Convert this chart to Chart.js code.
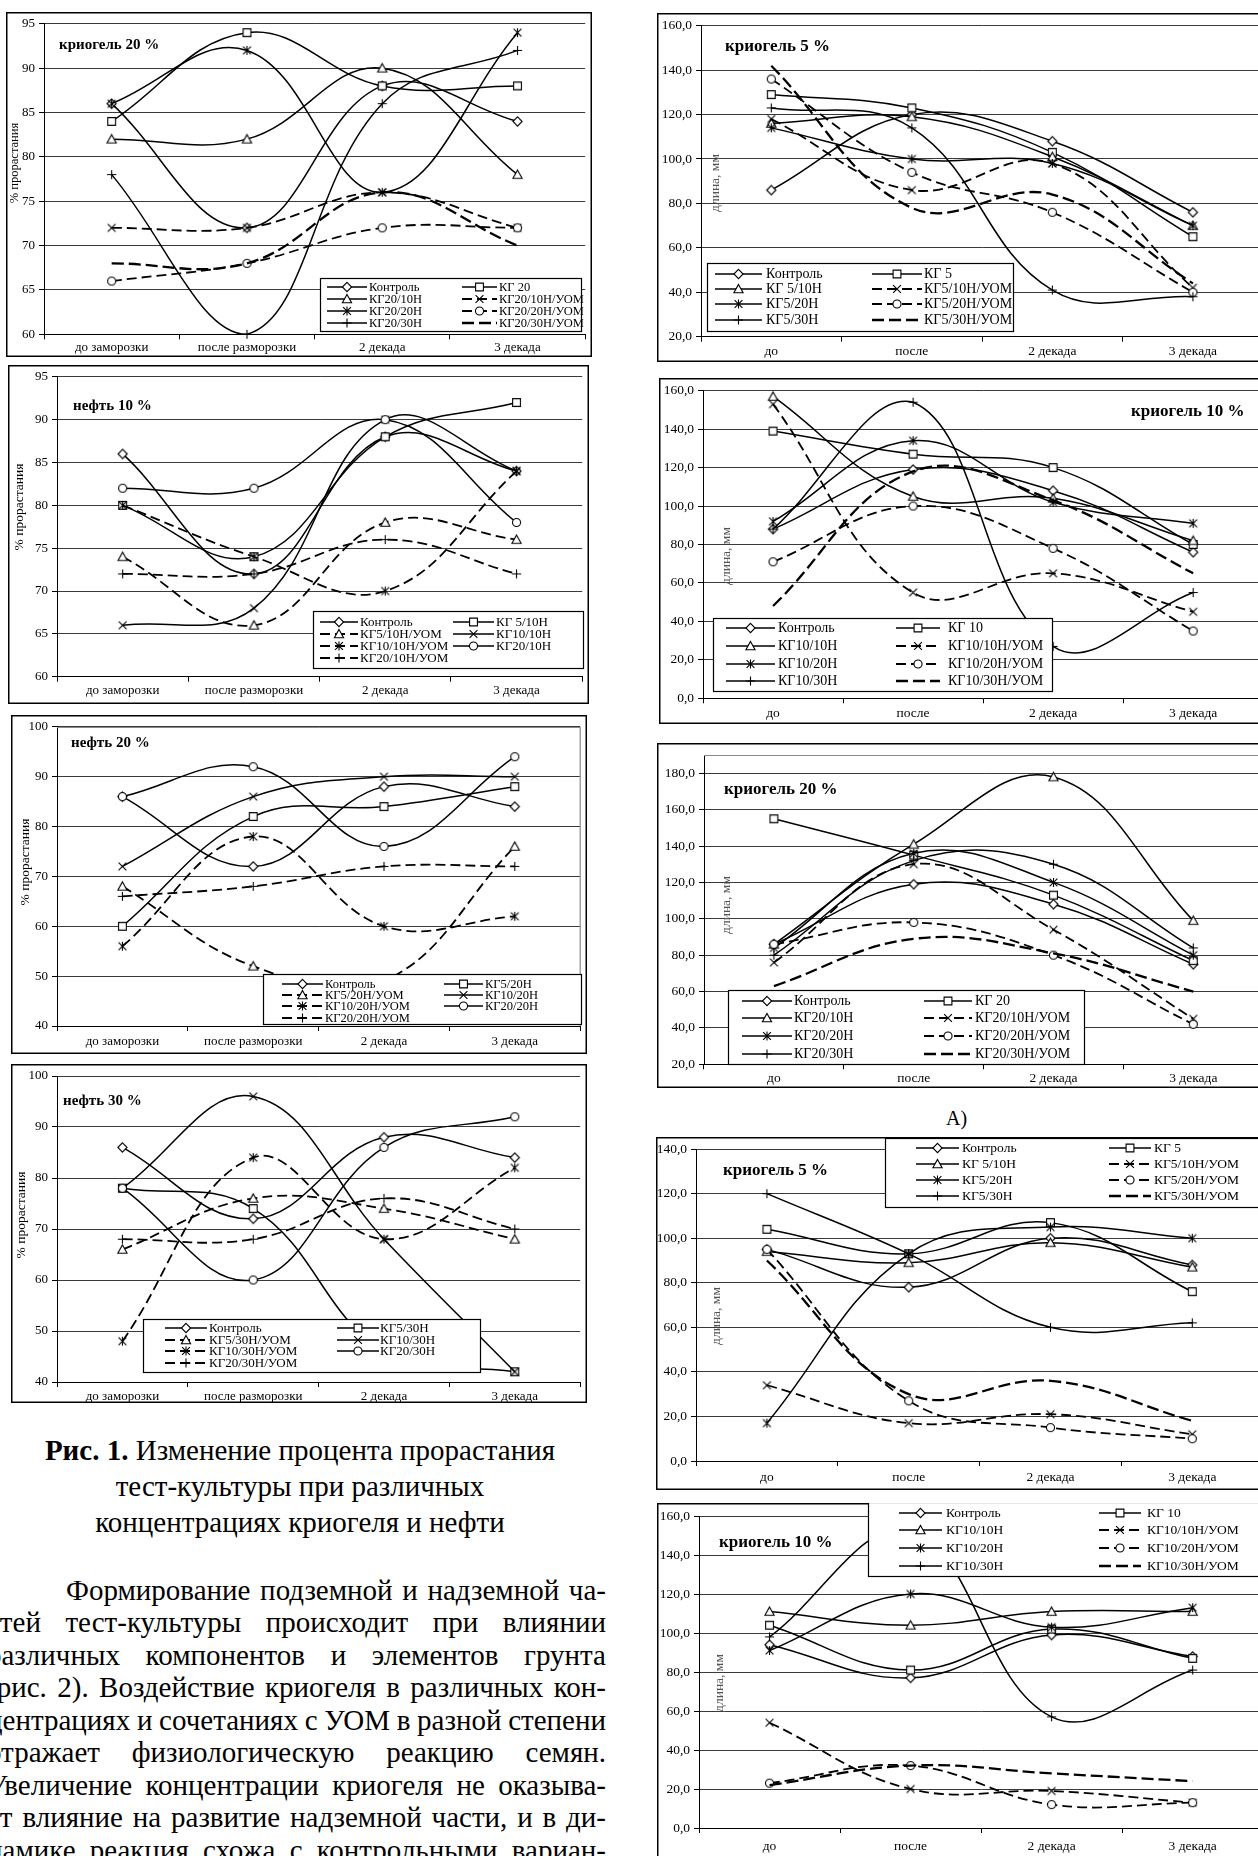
<!DOCTYPE html>
<html>
<head>
<meta charset="utf-8">
<script src="https://cdn.jsdelivr.net/npm/chart.js@4/dist/chart.umd.min.js"></script>
<style>
  html, body { margin: 0; padding: 0; background: #fff; }
  body { width: 1258px; height: 1856px; overflow: hidden; position: relative;
         font-family: "Liberation Serif", "Times New Roman", serif; color: #000; }
  canvas { position: absolute; }
  .cap { position: absolute; left: 0; width: 600px; text-align: center; white-space: nowrap;
         font-size: 29px; line-height: 36px; }
  .pl { position: absolute; white-space: nowrap; font-size: 29px; line-height: 32px; }
  .lbl { position: absolute; white-space: nowrap; font-size: 20px; line-height: 24px; }
</style>
</head>
<body>

<div class="cap" style="top:1432px"><b>Рис. 1.</b> Изменение процента прорастания</div>
<div class="cap" style="top:1468px">тест-культуры при различных</div>
<div class="cap" style="top:1504px">концентрациях криогеля и нефти</div>

<div class="pl" data-w="540" style="left:66px;top:1574px"><span>Формирование подземной и надземной ча-</span></div>
<div class="pl" data-w="619" style="left:-13px;top:1606px"><span>стей тест-культуры происходит при влиянии</span></div>
<div class="pl" data-w="619" style="left:-13px;top:1639px"><span>различных компонентов и элементов грунта</span></div>
<div class="pl" data-w="619" style="left:-13px;top:1671px"><span>(рис. 2). Воздействие криогеля в различных кон-</span></div>
<div class="pl" data-w="619" style="left:-13px;top:1704px"><span>центрациях и сочетаниях с УОМ в разной степени</span></div>
<div class="pl" data-w="619" style="left:-13px;top:1736px"><span>отражает физиологическую реакцию семян.</span></div>
<div class="pl" data-w="619" style="left:-13px;top:1769px"><span>Увеличение концентрации криогеля не оказыва-</span></div>
<div class="pl" data-w="619" style="left:-13px;top:1801px"><span>ет влияние на развитие надземной части, и в ди-</span></div>
<div class="pl" data-w="619" style="left:-13px;top:1834px"><span>намике реакция схожа с контрольными вариан-</span></div>

<div class="lbl" style="left:946px;top:1106px">А)</div>

<script>
// ---------- categories ----------
const stagesLong  = ['до заморозки', 'после разморозки', '2 декада', '3 декада'];
const stagesShort = ['до', 'после', '2 декада', '3 декада'];

// ---------- Рис. 1: % прорастания ----------
const kg20GermNames  = ['Контроль', 'КГ 20', 'КГ20/10Н', 'КГ20/10Н/УОМ', 'КГ20/20Н', 'КГ20/20Н/УОМ', 'КГ20/30Н', 'КГ20/30Н/УОМ'];
const kg20GermValues = [[86, 72, 88, 84], [84, 94, 88, 88], [82, 82, 90, 78], [72, 72, 76, 72],
                        [86, 92, 76, 94], [66, 68, 72, 72], [78, 60, 86, 92], [68, 68, 76, 70]];

const oil10Names  = ['Контроль', 'КГ 5/10Н', 'КГ5/10Н/УОМ', 'КГ10/10Н', 'КГ10/10Н/УОМ', 'КГ20/10Н', 'КГ20/10Н/УОМ'];
const oil10Values = [[86, 72, 88, 84], [80, 74, 88, 92], [74, 66, 78, 76], [66, 68, 90, 84],
                     [80, 74, 70, 84], [82, 82, 90, 78], [72, 72, 76, 72]];

const oil20Names  = ['Контроль', 'КГ5/20Н', 'КГ5/20Н/УОМ', 'КГ10/20Н', 'КГ10/20Н/УОМ', 'КГ20/20Н', 'КГ20/20Н/УОМ'];
const oil20Values = [[86, 72, 88, 84], [60, 82, 84, 88], [68, 52, 49, 76], [72, 86, 90, 90],
                     [56, 78, 60, 62], [86, 92, 76, 94], [66, 68, 72, 72]];

const oil30Names  = ['Контроль', 'КГ5/30Н', 'КГ5/30Н/УОМ', 'КГ10/30Н', 'КГ10/30Н/УОМ', 'КГ20/30Н', 'КГ20/30Н/УОМ'];
const oil30Values = [[86, 72, 88, 84], [78, 74, 46, 42], [66, 76, 74, 68], [78, 96, 68, 42],
                     [48, 84, 68, 82], [78, 60, 86, 92], [68, 68, 76, 70]];

// ---------- длина, мм (А) ----------
const kg5LenNames  = ['Контроль', 'КГ 5', 'КГ 5/10Н', 'КГ5/10Н/УОМ', 'КГ5/20Н', 'КГ5/20Н/УОМ', 'КГ5/30Н', 'КГ5/30Н/УОМ'];
const kg5LenValues = [[86, 120, 108, 76], [129, 123, 103, 65], [116, 119, 101, 70], [118, 86, 98, 42],
                      [114, 100, 98, 70], [136, 94, 76, 40], [123, 114, 41, 38], [142, 78, 84, 44]];

const kg10LenNames  = ['Контроль', 'КГ 10', 'КГ10/10Н', 'КГ10/10Н/УОМ', 'КГ10/20Н', 'КГ10/20Н/УОМ', 'КГ10/30Н', 'КГ10/30Н/УОМ'];
const kg10LenValues = [[88, 119, 108, 76], [139, 127, 120, 80], [157, 105, 104, 82], [153, 55, 65, 45],
                       [92, 134, 102, 91], [71, 100, 78, 35], [88, 154, 27, 55], [48, 118, 103, 65]];

const kg20LenNames  = ['Контроль', 'КГ 20', 'КГ20/10Н', 'КГ20/10Н/УОМ', 'КГ20/20Н', 'КГ20/20Н/УОМ', 'КГ20/30Н', 'КГ20/30Н/УОМ'];
const kg20LenValues = [[86, 119, 108, 75], [155, 135, 113, 77], [86, 141, 178, 99], [76, 130, 94, 45],
                       [84, 136, 120, 80], [86, 98, 80, 42], [80, 132, 130, 84], [63, 89, 81, 60]];

// ---------- длина, мм (второй блок) ----------
const kg5Len2Names  = ['Контроль', 'КГ 5', 'КГ 5/10Н', 'КГ5/10Н/УОМ', 'КГ5/20Н', 'КГ5/20Н/УОМ', 'КГ5/30Н', 'КГ5/30Н/УОМ'];
const kg5Len2Values = [[95, 78, 100, 88], [104, 93, 107, 76], [94, 89, 98, 87], [34, 17, 21, 12],
                       [17, 93, 105, 100], [95, 27, 15, 10], [120, 93, 60, 62], [90, 30, 36, 18]];

const kg10Len2Names  = ['Контроль', 'КГ 10', 'КГ10/10Н', 'КГ10/10Н/УОМ', 'КГ10/20Н', 'КГ10/20Н/УОМ', 'КГ10/30Н', 'КГ10/30Н/УОМ'];
const kg10Len2Values = [[94, 77, 99, 88], [104, 81, 102, 87], [111, 104, 111, 111], [54, 20, 19, 13],
                        [91, 120, 103, 113], [23, 32, 12, 13], [98, 152, 57, 81], [22, 32, 28, 24]];

// ---------- series styles ----------
const MARKS_A  = ['diamond', 'square', 'triangle', 'x', 'star', 'circle', 'plus', 'none'];
const DASHED_A = [false, false, false, true, false, true, false, true];
const MARKS_B  = ['diamond', 'square', 'triangle', 'x', 'star', 'circle', 'plus'];
const DASHED_B = [false, false, true, false, true, false, true];

const FONT = '"Liberation Serif", "Times New Roman", serif';
Chart.defaults.font.family = FONT;
Chart.defaults.color = '#000';

function drawMark(ctx, type, x, y) {
  const s = 4.6;
  ctx.save();
  ctx.setLineDash([]);
  ctx.lineWidth = 1.1;
  ctx.strokeStyle = '#000';
  ctx.fillStyle = '#fff';
  ctx.beginPath();
  switch (type) {
    case 'diamond':
      ctx.moveTo(x, y - s); ctx.lineTo(x + s, y); ctx.lineTo(x, y + s); ctx.lineTo(x - s, y); ctx.closePath();
      ctx.fill(); ctx.stroke(); break;
    case 'square':
      ctx.rect(x - s * 0.85, y - s * 0.85, s * 1.7, s * 1.7); ctx.fill(); ctx.stroke(); break;
    case 'triangle':
      ctx.moveTo(x, y - s); ctx.lineTo(x + s, y + s * 0.8); ctx.lineTo(x - s, y + s * 0.8); ctx.closePath();
      ctx.fill(); ctx.stroke(); break;
    case 'circle':
      ctx.arc(x, y, s * 0.88, 0, Math.PI * 2); ctx.fill(); ctx.stroke(); break;
    case 'x':
      ctx.moveTo(x - s * 0.85, y - s * 0.85); ctx.lineTo(x + s * 0.85, y + s * 0.85);
      ctx.moveTo(x + s * 0.85, y - s * 0.85); ctx.lineTo(x - s * 0.85, y + s * 0.85); ctx.stroke(); break;
    case 'star':
      ctx.moveTo(x - s * 0.85, y - s * 0.85); ctx.lineTo(x + s * 0.85, y + s * 0.85);
      ctx.moveTo(x + s * 0.85, y - s * 0.85); ctx.lineTo(x - s * 0.85, y + s * 0.85);
      ctx.moveTo(x, y - s); ctx.lineTo(x, y + s); ctx.stroke(); break;
    case 'plus':
      ctx.moveTo(x - s, y); ctx.lineTo(x + s, y); ctx.moveTo(x, y - s); ctx.lineTo(x, y + s); ctx.stroke(); break;
  }
  ctx.restore();
}

const markImages = {};
['diamond', 'square', 'triangle', 'x', 'star', 'circle', 'plus'].forEach(t => {
  const c = document.createElement('canvas');
  c.width = 13; c.height = 13;
  drawMark(c.getContext('2d'), t, 6.5, 6.5);
  markImages[t] = c;
});

// frame, caption, axis title and boxed legend drawn over each plot
const decor = {
  id: 'decor',
  afterDraw(chart, args, o) {
    const ctx = chart.ctx;
    const W = chart.width, H = chart.height, ox = o.ox, oy = o.oy;
    const ca = chart.chartArea;
    ctx.save();
    if (o.frame) {
      ctx.strokeStyle = '#8a8a8a'; ctx.lineWidth = 1.2;
      ctx.beginPath();
      ctx.moveTo(ca.left, Math.round(ca.top) + 0.5); ctx.lineTo(ca.right, Math.round(ca.top) + 0.5);
      if (o.frame === 'full') { ctx.lineTo(ca.right, ca.bottom); }
      ctx.stroke();
    }
    // outer border
    ctx.strokeStyle = '#000'; ctx.lineWidth = 1.5;
    ctx.strokeRect(0.75, 0.75, W - 1.5, H - 1.5);

    // y title
    const yt = o.yTitle;
    ctx.save();
    ctx.translate(yt.x - ox, yt.y - oy);
    ctx.rotate(-Math.PI / 2);
    ctx.fillStyle = yt.color;
    ctx.font = `${yt.size}px ${FONT}`;
    ctx.textAlign = 'center'; ctx.textBaseline = 'middle';
    ctx.fillText(yt.text, 0, 0);
    ctx.restore();

    // chart caption
    const t = o.title;
    ctx.fillStyle = '#000';
    ctx.font = `bold ${t.size}px ${FONT}`;
    ctx.textAlign = 'left'; ctx.textBaseline = 'middle';
    ctx.fillText(t.text, t.x - ox, t.y - oy);

    // legend
    const lg = o.legend;
    const [x0, y0, x1, y1] = lg.rect;
    ctx.fillStyle = '#fff';
    ctx.fillRect(x0 - ox, y0 - oy, x1 - x0, y1 - y0);
    ctx.strokeStyle = '#000'; ctx.lineWidth = 1.2;
    ctx.strokeRect(x0 - ox + 0.5, y0 - oy + 0.5, x1 - x0 - 1, y1 - y0 - 1);
    chart.data.datasets.forEach((ds, k) => {
      const y = lg.rows[Math.floor(k / 2)] - oy;
      const [a, b, tx] = lg.cols[k % 2];
      ctx.beginPath();
      ctx.setLineDash(ds.borderDash);
      ctx.lineWidth = ds.borderWidth;
      ctx.strokeStyle = '#000';
      ctx.moveTo(a - ox, y); ctx.lineTo(b - ox, y); ctx.stroke();
      ctx.setLineDash([]);
      if (ds.mark !== 'none') drawMark(ctx, ds.mark, (a + b) / 2 - ox, y);
      ctx.fillStyle = '#000';
      ctx.font = `${lg.size}px ${FONT}`;
      ctx.textAlign = 'left'; ctx.textBaseline = 'middle';
      ctx.fillText(ds.label, tx - ox, y + 0.5);
    });
    ctx.restore();
  }
};

const chartSpecs = [
  { box: [6, 12, 592, 357], plot: [44, 23.3, 591, 334.3], cats: stagesLong,
    names: kg20GermNames, values: kg20GermValues, marks: MARKS_A, dashed: DASHED_A,
    y: { min: 60, max: 95, step: 5, top: 95, dec: false }, tickSize: 13, xLabelY: 348,
    title: { text: 'криогель 20 %', x: 59, y: 45, size: 15 },
    yTitle: { text: '% прорастания', x: 15, y: 163, color: '#000', size: 12.5 },
    legend: { rect: [320, 278, 582, 332], rows: [287, 299, 311, 323], cols: [[327, 367, 369], [462, 497, 499]], size: 12.5 } },
  { box: [8, 365, 589, 704], plot: [57, 376.7, 586, 676.7], cats: stagesLong,
    names: oil10Names, values: oil10Values, marks: MARKS_B, dashed: DASHED_B,
    y: { min: 60, max: 95, step: 5, top: 95, dec: false }, tickSize: 13, xLabelY: 691,
    title: { text: 'нефть 10 %', x: 73, y: 406, size: 15 },
    yTitle: { text: '% прорастания', x: 19, y: 507, color: '#000', size: 13.5 },
    legend: { rect: [313, 611, 584, 669], rows: [622, 634, 646, 658], cols: [[320, 358, 360], [453, 494, 496]], size: 13 } },
  { box: [11, 715, 587, 1054], plot: [57, 719, 585, 1026], cats: stagesLong, frame: 'full',
    names: oil20Names, values: oil20Values, marks: MARKS_B, dashed: DASHED_B,
    y: { min: 40, max: 100, step: 10, top: 100, dec: false }, tickSize: 13, xLabelY: 1042,
    title: { text: 'нефть 20 %', x: 71, y: 743, size: 15 },
    yTitle: { text: '% прорастания', x: 25, y: 862, color: '#000', size: 13.5 },
    legend: { rect: [263, 974, 582, 1025], rows: [984, 995, 1006, 1018], cols: [[282, 323, 325], [444, 483, 485]], size: 12.5 } },
  { box: [11, 1064, 587, 1403], plot: [57, 1076, 585, 1382], cats: stagesLong,
    names: oil30Names, values: oil30Values, marks: MARKS_B, dashed: DASHED_B,
    y: { min: 40, max: 100, step: 10, top: 100, dec: false }, tickSize: 13, xLabelY: 1397,
    title: { text: 'нефть 30 %', x: 63, y: 1101, size: 15 },
    yTitle: { text: '% прорастания', x: 21, y: 1215, color: '#000', size: 13.5 },
    legend: { rect: [143, 1319, 481, 1373], rows: [1328, 1340, 1351, 1363], cols: [[165, 207, 209], [337, 379, 380]], size: 13 } },

  { box: [657, 13, 1270, 362], plot: [701, 25.7, 1265, 336.7], cats: stagesShort,
    names: kg5LenNames, values: kg5LenValues, marks: MARKS_A, dashed: DASHED_A,
    y: { min: 20, max: 160, step: 20, top: 160, dec: true }, tickSize: 13.5, xLabelY: 351,
    title: { text: 'криогель 5 %', x: 725, y: 47, size: 17 },
    yTitle: { text: 'длина, мм', x: 715, y: 183, color: '#555', size: 13.5 },
    legend: { rect: [707, 263, 1014, 332], rows: [274, 289, 304, 320], cols: [[715, 762, 766], [872, 922, 924]], size: 14 } },
  { box: [659, 378, 1270, 724], plot: [703, 390.7, 1265, 698.3], cats: stagesShort,
    names: kg10LenNames, values: kg10LenValues, marks: MARKS_A, dashed: DASHED_A,
    y: { min: 0, max: 160, step: 20, top: 160, dec: true }, tickSize: 13.5, xLabelY: 713,
    title: { text: 'криогель 10 %', x: 1131, y: 412, size: 17 },
    yTitle: { text: 'длина, мм', x: 726, y: 556, color: '#555', size: 13.5 },
    legend: { rect: [713, 618, 1053, 692], rows: [628, 646, 664, 681], cols: [[726, 775, 778], [896, 940, 948]], size: 14 } },
  { box: [657, 743, 1270, 1088], plot: [704, 752.7, 1267, 1064.3], cats: stagesShort, frame: 'top',
    names: kg20LenNames, values: kg20LenValues, marks: MARKS_A, dashed: DASHED_A,
    y: { min: 20, max: 190, step: 20, top: 180, dec: true }, tickSize: 13.5, xLabelY: 1078,
    title: { text: 'криогель 20 %', x: 724, y: 790, size: 17 },
    yTitle: { text: 'длина, мм', x: 726, y: 905, color: '#555', size: 13.5 },
    legend: { rect: [728, 990, 1085, 1065], rows: [1001, 1018, 1036, 1054], cols: [[742, 792, 794], [924, 972, 975]], size: 14 } },
  { box: [656, 1137, 1270, 1490], plot: [696, 1149, 1268, 1461], cats: stagesShort,
    names: kg5Len2Names, values: kg5Len2Values, marks: MARKS_A, dashed: DASHED_A,
    y: { min: 0, max: 140, step: 20, top: 140, dec: true }, tickSize: 13.5, xLabelY: 1477,
    title: { text: 'криогель 5 %', x: 723, y: 1171, size: 17 },
    yTitle: { text: 'длина, мм', x: 716, y: 1316, color: '#555', size: 13.5 },
    legend: { rect: [885, 1138, 1262, 1208], rows: [1148, 1164, 1180, 1196], cols: [[916, 959, 962], [1109, 1151, 1154]], size: 13.5 } },
  { box: [657, 1503, 1270, 1870], plot: [699, 1516, 1267, 1828], cats: stagesShort,
    names: kg10Len2Names, values: kg10Len2Values, marks: MARKS_A, dashed: DASHED_A,
    y: { min: 0, max: 160, step: 20, top: 160, dec: true }, tickSize: 13.5, xLabelY: 1846,
    title: { text: 'криогель 10 %', x: 719, y: 1543, size: 17 },
    yTitle: { text: 'длина, мм', x: 719, y: 1683, color: '#555', size: 13.5 },
    legend: { rect: [868, 1502, 1262, 1577], rows: [1513, 1530, 1548, 1566], cols: [[899, 942, 946], [1099, 1141, 1147]], size: 13.5 } }
];

function buildChart(cfg) {
  const [bx0, by0, bx1, by1] = cfg.box;
  const W = bx1 - bx0, H = by1 - by0;
  const area = { l: cfg.plot[0] - bx0, t: cfg.plot[1] - by0, r: cfg.plot[2] - bx0, b: cfg.plot[3] - by0 };
  const cv = document.createElement('canvas');
  cv.width = W; cv.height = H;
  cv.style.left = bx0 + 'px'; cv.style.top = by0 + 'px';
  cv.style.width = W + 'px'; cv.style.height = H + 'px';
  document.body.appendChild(cv);

  const n = cfg.names.length;
  const datasets = cfg.names.map((name, i) => {
    const mark = cfg.marks[i], dashed = cfg.dashed[i];
    return {
      label: name, data: cfg.values[i], mark: mark,
      borderColor: '#000', backgroundColor: '#fff',
      borderWidth: dashed ? (mark === 'none' ? 2.3 : 1.8) : 1.5,
      borderDash: dashed ? (mark === 'none' ? [12, 5] : [10, 5]) : [],
      pointStyle: mark === 'none' ? false : markImages[mark],
      pointRadius: mark === 'none' ? 0 : 5,
      tension: 0.4, clip: false, order: n - i
    };
  });

  const fs = cfg.tickSize;
  const xPad = Math.max(0, cfg.xLabelY - cfg.plot[3] - 5 - fs * 0.6);

  new Chart(cv, {
    type: 'line',
    data: { labels: cfg.cats, datasets },
    options: {
      responsive: false, animation: false, devicePixelRatio: 1, events: [],
      layout: { padding: { left: 0, top: area.t, right: W - area.r, bottom: 0 } },
      plugins: {
        legend: { display: false }, tooltip: { enabled: false },
        decor: { ox: bx0, oy: by0, frame: cfg.frame, title: cfg.title, yTitle: cfg.yTitle, legend: cfg.legend }
      },
      scales: {
        x: {
          type: 'category', offset: true,
          grid: { offset: true, drawOnChartArea: false, drawTicks: true, tickLength: 5, color: '#000' },
          border: { display: true, color: '#000', width: 1 },
          ticks: { color: '#000', font: { size: fs }, padding: xPad, maxRotation: 0, autoSkip: false },
          afterFit: s => { s.height = H - area.b; }
        },
        y: {
          min: cfg.y.min, max: cfg.y.max,
          afterBuildTicks: s => { s.ticks = s.ticks.filter(tk => tk.value <= cfg.y.top); },
          ticks: { stepSize: cfg.y.step, color: '#000', font: { size: fs }, padding: 4,
                   callback: v => cfg.y.dec ? Number(v).toFixed(1).replace('.', ',') : String(v) },
          grid: { color: '#3a3a3a', tickColor: '#000', tickLength: 5, drawTicks: true },
          border: { display: true, color: '#000', width: 1 },
          afterFit: s => { s.width = area.l; }
        }
      }
    },
    plugins: [decor]
  });
}

chartSpecs.forEach(buildChart);

// justify each printed line of the paragraph to its column width
document.querySelectorAll('.pl').forEach(el => {
  const span = el.firstElementChild;
  const target = parseFloat(el.dataset.w);
  const natural = span.getBoundingClientRect().width;
  const gaps = (span.textContent.match(/ /g) || []).length;
  if (gaps) span.style.wordSpacing = ((target - natural) / gaps).toFixed(2) + 'px';
});
</script>
</body>
</html>
